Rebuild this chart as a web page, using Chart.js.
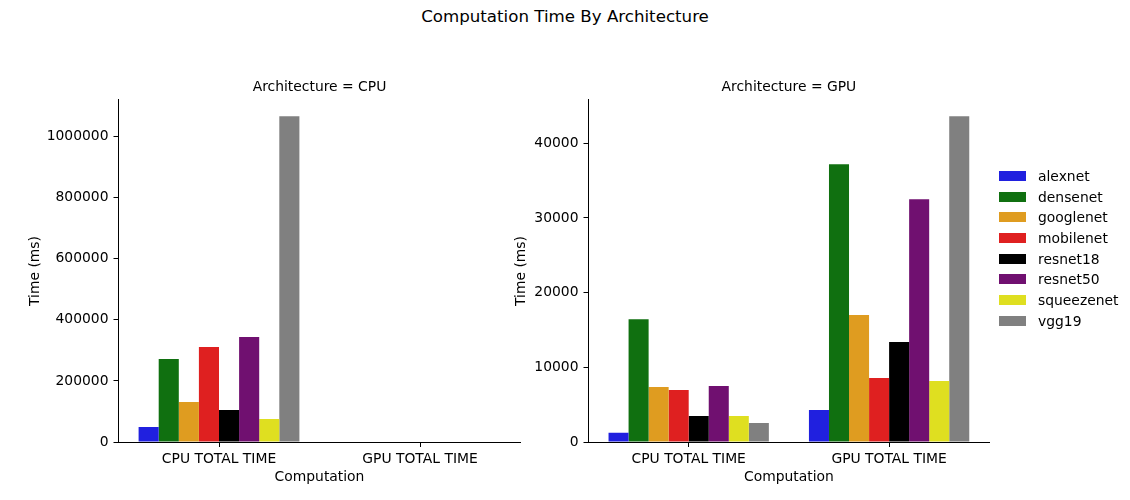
<!DOCTYPE html>
<html>
<head>
<meta charset="utf-8">
<script src="https://cdn.jsdelivr.net/npm/chart.js@4/dist/chart.umd.min.js"></script>
<style>
  html, body { margin: 0; padding: 0; background: #fff; }
  #wrap { position: relative; width: 1130px; height: 500px; overflow: hidden; font-family: 'DejaVu Sans', sans-serif; }
  canvas { position: absolute; top: 0; }
  #c1 { left: 0px; }
  #c2 { left: 470px; }
  #title { position: absolute; left: 0; top: 7px; width: 1130px; text-align: center; font-size: 16.67px; line-height: 20px; color: #000; }
  #legend { position: absolute; left: 999px; top: 166px; }
  .item { position: relative; height: 20.7px; }
  .sw { position: absolute; left: 0; top: 5px; width: 27px; height: 10px; }
  .lbl { position: absolute; left: 39px; top: 0; font-size: 13.89px; line-height: 20px; color: #000; white-space: nowrap; }
</style>
</head>
<body>
<div id="wrap">
  <div id="title">Computation Time By Architecture</div>
  <canvas id="c1" width="565" height="500"></canvas>
  <canvas id="c2" width="560" height="500"></canvas>
  <div id="legend"></div>
</div>
<script>
// ---- data ----
const categories = ["CPU TOTAL TIME", "GPU TOTAL TIME"];
const models = ["alexnet", "densenet", "googlenet", "mobilenet", "resnet18", "resnet50", "squeezenet", "vgg19"];
const colors = ["#2020df", "#107010", "#df9c20", "#df2020", "#000000", "#701070", "#dfdf20", "#808080"];

// Architecture = CPU
const cpuArchCpuTime = [49000, 271500, 131000, 310800, 104700, 343500, 75200, 1066600];
const cpuArchGpuTime = [null, null, null, null, null, null, null, null];

// Architecture = GPU
const gpuArchCpuTime = [1250, 16450, 7360, 6960, 3480, 7490, 3480, 2540];
const gpuArchGpuTime = [4280, 37190, 16990, 8560, 13380, 32510, 8160, 43610];

// y-axis tick labels and limits
const cpuYTicks = [0, 200000, 400000, 600000, 800000, 1000000];
const gpuYTicks = [0, 10000, 20000, 30000, 40000];
const cpuYMax = 1120000;
const gpuYMax = 45790;

const FONT = "'DejaVu Sans', sans-serif";
const FS = 13.89;

function makeChart(id, subTitle, cpuVals, gpuVals, yMax, yTicks, yTitlePad, rightPad) {
  const datasets = models.map((m, i) => ({
    label: m,
    data: [cpuVals[i], gpuVals[i]],
    backgroundColor: colors[i],
    borderWidth: 0,
    categoryPercentage: 0.8,
    barPercentage: 1.0
  }));
  return new Chart(document.getElementById(id), {
    type: 'bar',
    data: { labels: categories, datasets },
    options: {
      responsive: false,
      animation: false,
      devicePixelRatio: 1,
      layout: { padding: { left: 0, right: rightPad, top: 0, bottom: 0 } },
      plugins: {
        legend: { display: false },
        tooltip: { enabled: false },
        title: {
          display: true,
          text: subTitle,
          fullSize: false,
          color: '#000',
          font: { family: FONT, size: FS, weight: 'normal' },
          padding: { top: 79.2, bottom: 4.1 }
        }
      },
      scales: {
        x: {
          afterFit: (s) => { s.height = 58; },
          grid: { display: true, drawOnChartArea: false, drawTicks: true, tickLength: 5, tickColor: '#000', tickWidth: 1, offset: false },
          border: { display: true, color: '#000', width: 1 },
          ticks: { color: '#000', font: { family: FONT, size: FS }, padding: 4, maxRotation: 0 },
          title: { display: true, text: 'Computation', color: '#000', font: { family: FONT, size: FS }, padding: { top: 0, bottom: 14.7 } }
        },
        y: {
          min: 0,
          max: yMax,
          afterFit: (s) => { s.width = 118.5; },
          afterBuildTicks: (s) => { s.ticks = yTicks.map(v => ({ value: v })); },
          grid: { display: true, drawOnChartArea: false, drawTicks: true, tickLength: 5, tickColor: '#000', tickWidth: 1 },
          border: { display: true, color: '#000', width: 1 },
          ticks: { color: '#000', font: { family: FONT, size: FS }, padding: 5, callback: (v) => String(v) },
          title: { display: true, text: 'Time (ms)', color: '#000', font: { family: FONT, size: FS }, padding: { top: yTitlePad, bottom: 0 } }
        }
      }
    }
  });
}

makeChart('c1', 'Architecture = CPU', cpuArchCpuTime, cpuArchGpuTime, cpuYMax, cpuYTicks, 26.7, 44.5);
makeChart('c2', 'Architecture = GPU', gpuArchCpuTime, gpuArchGpuTime, gpuYMax, gpuYTicks, 42.7, 40.7);

// legend built from the same arrays
const leg = document.getElementById('legend');
models.forEach((m, i) => {
  const it = document.createElement('div');
  it.className = 'item';
  it.innerHTML = '<div class="sw" style="background:' + colors[i] + '"></div><div class="lbl">' + m + '</div>';
  leg.appendChild(it);
});
</script>
</body>
</html>
